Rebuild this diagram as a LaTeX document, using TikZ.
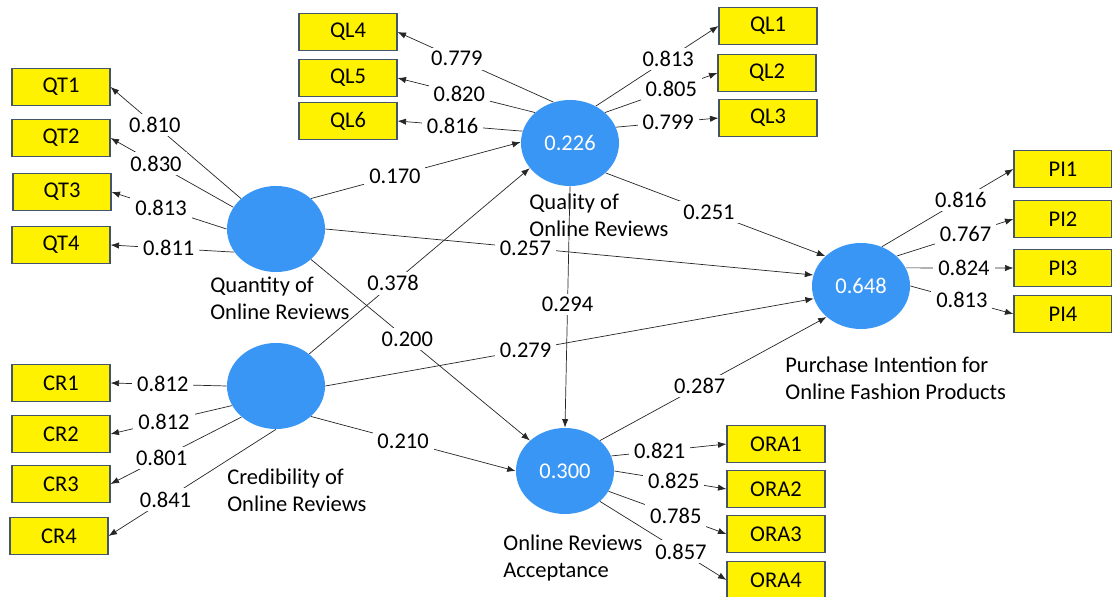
\documentclass[tikz,border=0pt]{standalone}
\usepackage{fontspec}
\setmainfont{Carlito}
\usetikzlibrary{shapes.geometric,arrows.meta}
\definecolor{lvblue}{RGB}{58,150,245}
\definecolor{mvline}{RGB}{68,84,106}
\begin{document}
\begin{tikzpicture}[x=0.025cm,y=-0.025cm,font=\fontsize{16}{19}\selectfont]
\tikzstyle{every path}=[line width=0.5pt]
\tikzstyle{lv}=[ellipse,fill=lvblue,text=white,minimum width=2.45cm,minimum height=2.15cm,inner sep=0pt]
\tikzstyle{mv}=[rectangle,draw=mvline,fill=yellow,line width=0.8pt,minimum width=2.45cm,minimum height=0.92cm,inner sep=0pt]
\tikzstyle{arr}=[-{Latex[length=6pt,width=4.5pt]},draw=black!85]
\tikzstyle{w}=[fill=white,inner xsep=3.5pt,inner ysep=2.5pt]
\tikzstyle{lvname}=[align=left,anchor=west,inner sep=0pt]

\useasboundingbox (0,0) rectangle (1112,597);

\begin{scope}
\node (QT) at (276,229) [lv] {};
\node (CR) at (276,386) [lv] {};
\node (QL) at (570,143) [lv] {0.226};
\node (PI) at (861,286) [lv] {0.648};
\node (ORA) at (565,471) [lv] {0.300};

\node (QTname) at (210,298) [lvname] {Quantity of\\Online Reviews};
\node (CRname) at (227,490) [lvname] {Credibility of\\Online Reviews};
\node (QLname) at (529,215) [lvname] {Quality of\\Online Reviews};
\node (PIname) at (785,378) [lvname] {Purchase Intention for\\Online Fashion Products};
\node (ORAname) at (503,558) [lvname] {Online Reviews\\Acceptance};

\node (QT1) at (61,87) [mv] {QT1};
\node (QT2) at (61,138) [mv] {QT2};
\node (QT3) at (62,192) [mv] {QT3};
\node (QT4) at (61,245) [mv] {QT4};
\node (CR1) at (61,383) [mv] {CR1};
\node (CR2) at (61,434) [mv] {CR2};
\node (CR3) at (61,484) [mv] {CR3};
\node (CR4) at (59,536) [mv] {CR4};
\node (QL4) at (348,32) [mv] {QL4};
\node (QL5) at (348,78) [mv] {QL5};
\node (QL6) at (348,121) [mv] {QL6};
\node (QL1) at (768,26) [mv] {QL1};
\node (QL2) at (767,73) [mv] {QL2};
\node (QL3) at (768,118) [mv] {QL3};
\node (PI1) at (1063,169) [mv] {PI1};
\node (PI2) at (1063,219) [mv] {PI2};
\node (PI3) at (1063,268) [mv] {PI3};
\node (PI4) at (1063,314) [mv] {PI4};
\node (ORA1) at (776,444) [mv] {ORA1};
\node (ORA2) at (776,489) [mv] {ORA2};
\node (ORA3) at (776,534) [mv] {ORA3};
\node (ORA4) at (776,580) [mv] {ORA4};

\draw[arr] (QT.139) -- node[w,pos=0.66]{0.810} (QT1.east);
\draw[arr] (QT.153) -- node[w,pos=0.63]{0.830} (QT2.east);
\draw[arr] (QT.180) -- node[w,pos=0.57]{0.813} (QT3.east);
\draw[arr] (QT.209) -- node[w,pos=0.53]{0.811} (QT4.east);

\draw[arr] (CR.180) -- node[w,pos=0.55]{0.812} (CR1.east);
\draw[arr] (CR.204) -- node[w,pos=0.56]{0.812} (CR2.east);
\draw[arr] (CR.222) -- node[w,pos=0.61]{0.801} (CR3.east);
\draw[arr] (CR.270) -- node[w,pos=0.66]{0.841} (CR4.east);

\draw[arr] (QL.112) -- node[w,pos=0.62]{0.779} (QL4.east);
\draw[arr] (QL.139) -- node[w,pos=0.55]{0.820} (QL5.east);
\draw[arr] (QL.166) -- node[w,pos=0.56]{0.816} (QL6.east);
\draw[arr] (QL.55) -- node[w,pos=0.59]{0.813} (QL1.west);
\draw[arr] (QL.41) -- node[w,pos=0.59]{0.805} (QL2.west);
\draw[arr] (QL.19) -- node[w,pos=0.51]{0.799} (QL3.west);

\draw[arr] (PI.62) -- node[w,pos=0.6]{0.816} (PI1.west);
\draw[arr] (PI.40) -- node[w,pos=0.59]{0.767} (PI2.west);
\draw[arr] (PI.22) -- node[w,pos=0.54]{0.824} (PI3.west);
\draw[arr] (PI.0) -- node[w,pos=0.5]{0.813} (PI4.west);

\draw[arr] (ORA.18) -- node[w,pos=0.42]{0.821} (ORA1.west);
\draw[arr] (ORA.0) -- node[w,pos=0.53]{0.825} (ORA2.west);
\draw[arr] (ORA.-25) -- node[w,pos=0.57]{0.785} (ORA3.west);
\draw[arr] (ORA.-41) -- node[w,pos=0.64]{0.857} (ORA4.west);

\draw[arr] (QT.41) -- node[w,pos=0.40]{0.170} (QL.179);
\draw[arr] (CR.44) -- node[w,pos=0.38]{0.378} (QL.212);
\draw[arr] (QT.0) -- node[w,pos=0.41]{0.257} (PI.167);
\draw[arr] (QT.-41) -- node[w,pos=0.44]{0.200} (ORA.139);
\draw[arr] (CR.0) -- node[w,pos=0.41]{0.279} (PI.195);
\draw[arr] (CR.-41) -- node[w,pos=0.45]{0.210} (ORA.180);
\draw[arr] (QL.-40) -- node[w,pos=0.47]{0.251} (PI.140);
\draw[arr] (QL.270) -- node[w,pos=0.49]{0.294} (ORA.90);
\draw[arr] (ORA.41) -- node[w,pos=0.44]{0.287} (PI.222);
\end{scope}

\end{tikzpicture}
\end{document}
